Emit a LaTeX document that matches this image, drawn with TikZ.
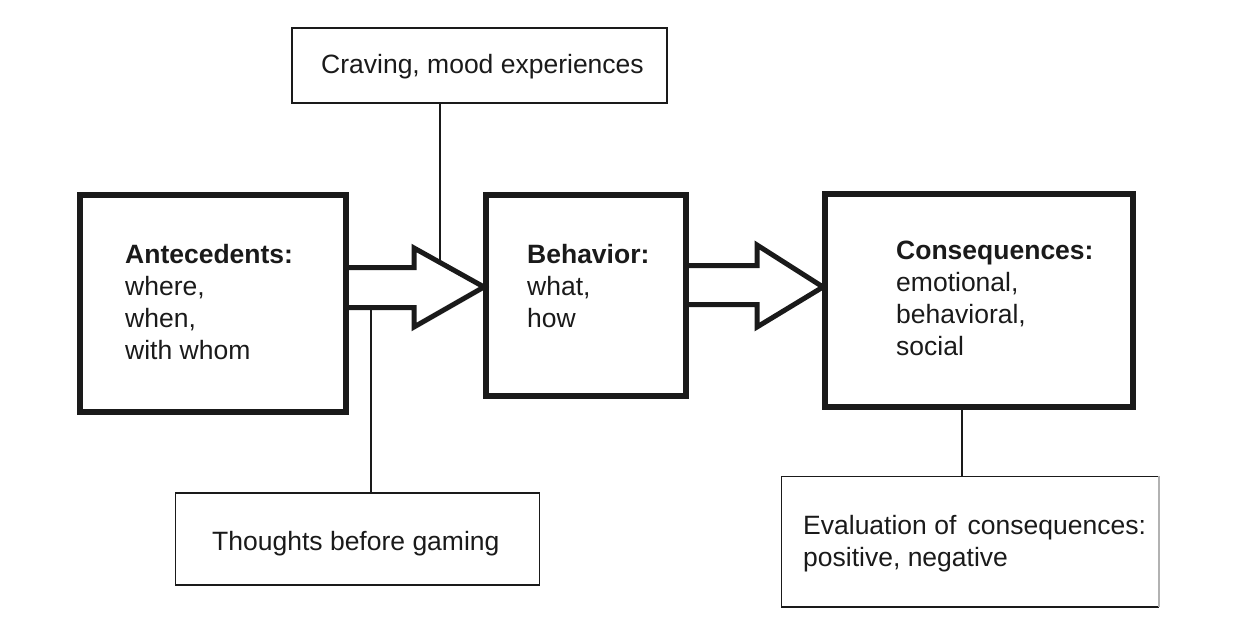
\documentclass[tikz,border=0pt]{standalone}
\usepackage{fontspec}
\setmainfont{Liberation Sans}
\definecolor{ink}{HTML}{1A1A1A}
\begin{document}
\begin{tikzpicture}[x=1pt,y=-1pt,
  bigbox/.style={draw=ink,line width=6pt,inner sep=0pt,rectangle},
  thinbox/.style={draw=ink,line width=1.5pt,inner sep=0pt,rectangle},
  blockarrow/.style={draw=ink,line width=5pt,miter limit=10},
  link/.style={draw=ink,line width=1.6pt},
  txt/.style={anchor=base west,inner sep=0pt,text=ink,font=\fontsize{26.5pt}{32pt}\selectfont}
]
\useasboundingbox (0,0) rectangle (1256,618);
% boxes
\node[bigbox,minimum width=266.5pt,minimum height=216.5pt] (ante) at (212.75,303.25) {};
\node[bigbox,minimum width=200pt,minimum height=200.5pt] (beh) at (586,295.25) {};
\node[bigbox,minimum width=308pt,minimum height=212.5pt] (cons) at (978.5,300.25) {};
\node[thinbox,minimum width=375pt,minimum height=75pt] (crav) at (479.5,65.5) {};
\node[thinbox,minimum width=364pt,minimum height=92pt] (thou) at (357.5,539) {};
\node[thinbox,draw=none,minimum width=376pt,minimum height=129pt] (eval) at (970,541.5) {};
\draw[ink,line width=1.5pt] (eval.north east) -- (eval.north west) -- (eval.south west) -- (eval.south east);
\draw[black!30,line width=1.5pt] (eval.north east) -- (eval.south east);
% block arrows
\coordinate (a1s) at (346,267.5);
\coordinate (a1b) at (346,307.5);
\coordinate (a1tip) at (484,287);
\draw[blockarrow] (a1s) -- (414,267.5) -- (414,248) -- (a1tip) -- (414,327) -- (414,307.5) -- (a1b);
\coordinate (a2s) at (686,265.5);
\coordinate (a2b) at (686,304.5);
\coordinate (a2tip) at (823,287);
\draw[blockarrow] (a2s) -- (757,265.5) -- (757,245) -- (a2tip) -- (757,327) -- (757,304.5) -- (a2b);
% connectors
\coordinate (c1) at (440,262.5);
\draw[link] (crav.south -| c1) -- (c1);
\coordinate (c2) at (371,307.5);
\draw[link] (thou.north -| c2) -- (c2);
\coordinate (c3) at (962,0);
\draw[link] (cons.south -| c3) -- (eval.north -| c3);
% texts
\node[txt] (t1) at (125,263) {\textbf{Antecedents:}};
\node[txt] (t2) at (125,295) {where,};
\node[txt] (t3) at (125,327) {when,};
\node[txt] (t4) at (125,359) {with whom};
\node[txt] (t5) at (527,263) {\textbf{Behavior:}};
\node[txt] (t6) at (527,295) {what,};
\node[txt] (t7) at (527,327) {how};
\node[txt] (t8) at (896,259) {\textbf{Consequences:}};
\node[txt] (t9) at (896,291) {emotional,};
\node[txt] (t10) at (896,323) {behavioral,};
\node[txt] (t11) at (896,355) {social};
\node[txt] (t12) at (321,74) {Craving, mood experiences};
\node[txt] (t13) at (212,550) {Thoughts before gaming};
\node[txt] (t14) at (803,534) {Evaluation of\hspace{0.15em} consequences:};
\node[txt] (t15) at (803,566) {positive, negative};
\end{tikzpicture}
\end{document}
